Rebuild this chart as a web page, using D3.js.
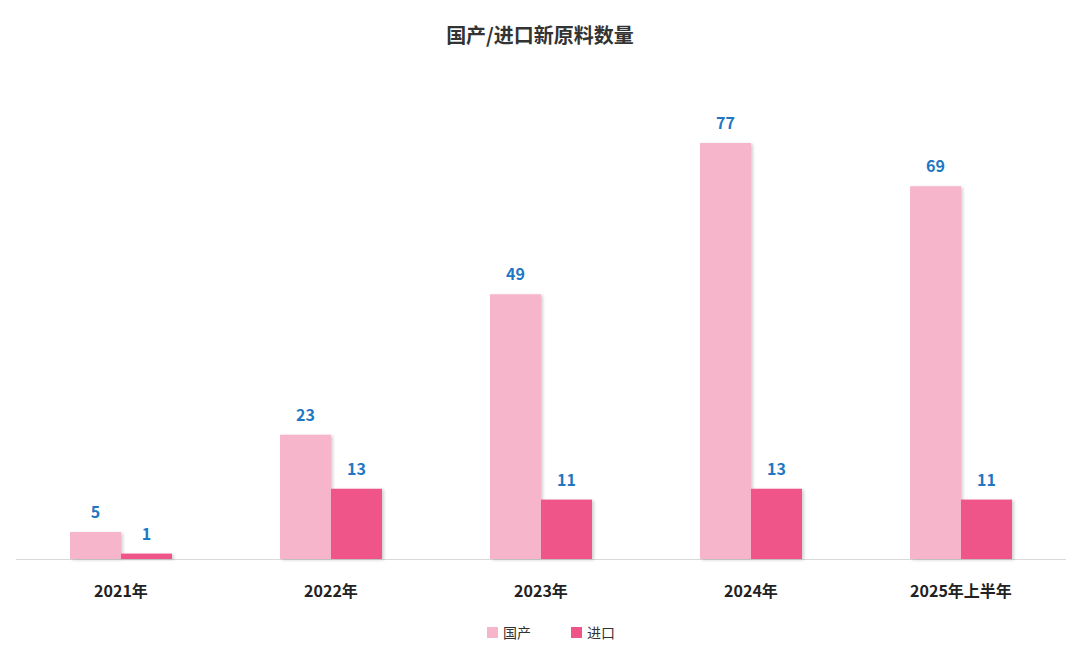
<!DOCTYPE html>
<html>
<head>
<meta charset="utf-8">
<script src="https://cdn.jsdelivr.net/npm/d3@7"></script>
<style>
  body { margin: 0; background: #fff; }
  text { font-family: "Noto Sans CJK SC", "Noto Sans", sans-serif; }
</style>
</head>
<body>
<svg id="chart" width="1080" height="660"></svg>
<script>
// 数据
const jahre = ["2021年", "2022年", "2023年", "2024年", "2025年上半年"];
const guochan = [5, 23, 49, 77, 69];
const jinkou = [1, 13, 11, 13, 11];
const serien = ["国产", "进口"];
const farben = ["#f7b5cb", "#ef5489"];

const svg = d3.select("#chart");
const unten = 559, oben = 143;

const x = d3.scaleBand().domain(jahre).range([16, 1066]);
const xi = d3.scaleBand().domain(serien).range([0, 102]);
const y = d3.scaleLinear().domain([0, 77]).range([unten, oben]);

// Schatten
const defs = svg.append("defs");
const f = defs.append("filter").attr("id", "schatten").attr("x", "-20%").attr("y", "-20%").attr("width", "150%").attr("height", "150%");
f.append("feDropShadow").attr("dx", 2).attr("dy", 1).attr("stdDeviation", 1.5).attr("flood-color", "#000").attr("flood-opacity", 0.18);

svg.append("text").attr("x", 540).attr("y", 43).attr("text-anchor", "middle")
  .attr("font-size", 20).attr("font-weight", "bold").attr("fill", "#333").text("国产/进口新原料数量");

// Achse
svg.append("line").attr("x1", 16).attr("x2", 1066).attr("y1", unten + 0.5).attr("y2", unten + 0.5)
  .attr("stroke", "#d9d9d9");

const gruppen = svg.selectAll("g.jahr").data(jahre).enter().append("g")
  .attr("class", "jahr")
  .attr("transform", d => `translate(${x(d) + x.bandwidth() / 2 - 51},0)`);

gruppen.each(function (d, i) {
  const g = d3.select(this);
  const werte = [guochan[i], jinkou[i]];
  werte.forEach((v, k) => {
    g.append("rect").attr("x", xi(serien[k])).attr("y", y(v))
      .attr("width", xi.bandwidth()).attr("height", unten - y(v))
      .attr("fill", farben[k]).attr("filter", "url(#schatten)");
    g.append("text").attr("x", xi(serien[k]) + xi.bandwidth() / 2).attr("y", y(v) - 14)
      .attr("text-anchor", "middle").attr("font-size", 16).attr("font-weight", "bold")
      .attr("fill", "#1f77c4").text(v);
  });
});

svg.selectAll("text.xlab").data(jahre).enter().append("text")
  .attr("class", "xlab")
  .attr("x", d => x(d) + x.bandwidth() / 2).attr("y", 597)
  .attr("text-anchor", "middle").attr("font-size", 16).attr("font-weight", "bold")
  .attr("fill", "#222").text(d => d);

// Legende
const leg = svg.append("g").attr("transform", "translate(487,633)");
serien.forEach((s, k) => {
  const lx = k * 84;
  leg.append("rect").attr("x", lx).attr("y", -6).attr("width", 11).attr("height", 11).attr("fill", farben[k]);
  leg.append("text").attr("x", lx + 16).attr("y", 5).attr("font-size", 14).attr("fill", "#333").text(s);
});
</script>
</body>
</html>
